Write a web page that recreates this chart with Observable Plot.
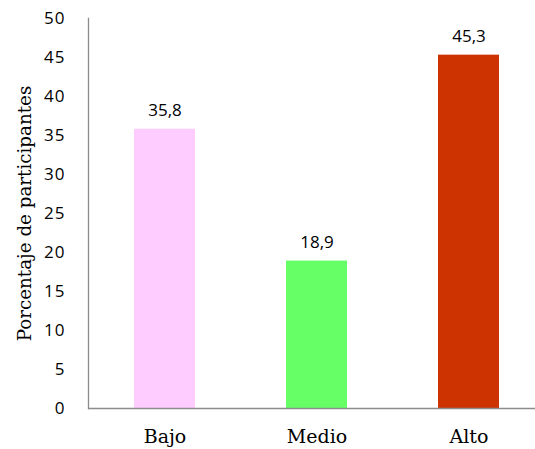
<!DOCTYPE html>
<html>
<head>
<meta charset="utf-8">
<script src="https://cdn.jsdelivr.net/npm/d3@7"></script>
<script src="https://cdn.jsdelivr.net/npm/@observablehq/plot@0.6"></script>
<style>
  html, body { margin: 0; padding: 0; background: #fff; }
  #chart svg { display: block; }
  #chart g[aria-label="y-axis label"] text { font-family: "DejaVu Serif", "Liberation Serif", serif; font-size: 18.3px; }
  #chart g[aria-label="x-axis tick label"] text { font-family: "DejaVu Serif", "Liberation Serif", serif; font-size: 19px; }
  #chart g[aria-label="y-axis tick label"] text { letter-spacing: 1px; }
</style>
</head>
<body>
<div id="chart"></div>
<script>
// Nivel (categorías), porcentaje de participantes y color de cada barra
const niveles = ["Bajo", "Medio", "Alto"];
const porcentajes = [35.8, 18.9, 45.3];
const colores = ["#FFCCFF", "#66FF66", "#CC3300"];
const yTicks = [0, 5, 10, 15, 20, 25, 30, 35, 40, 45, 50];

const datos = niveles.map((nivel, i) => ({nivel, valor: porcentajes[i], color: colores[i]}));
const fmt = v => v.toFixed(1).replace(".", ",");

const numFont = "'Open Sans', 'Liberation Sans', sans-serif";

const chart = Plot.plot({
  width: 535,
  height: 449,
  marginTop: 18,
  marginBottom: 41,
  marginLeft: 88,
  marginRight: 0,
  style: {background: "#fff", color: "#000"},
  x: {domain: niveles, range: [88, 544], paddingInner: 0.6, paddingOuter: 0.3, label: null},
  y: {domain: [0, 50], label: "Porcentaje de participantes"},
  marks: [
    Plot.barY(datos, {x: "nivel", y: "valor", fill: "color"}),
    Plot.text(datos, {
      x: "nivel", y: "valor", text: d => fmt(d.valor), dy: -19,
      fontFamily: numFont, fontSize: 17, fill: "#000",
      style: "letter-spacing: 1.8px"
    }),
    Plot.axisY({
      ticks: yTicks, tickSize: 0, tickPadding: 23, tickFormat: d => String(d),
      fontFamily: numFont, fontSize: 17,
      label: "Porcentaje de participantes", labelAnchor: "center", labelArrow: "none", labelOffset: 71
    }),
    Plot.axisX({tickSize: 0, tickPadding: 21, label: null}),
    Plot.ruleY([0], {stroke: "#8c8c8c", strokeWidth: 1.3}),
    Plot.frame({anchor: "left", stroke: "#8c8c8c", strokeWidth: 1.3})
  ]
});

document.getElementById("chart").appendChild(chart);
</script>
</body>
</html>
